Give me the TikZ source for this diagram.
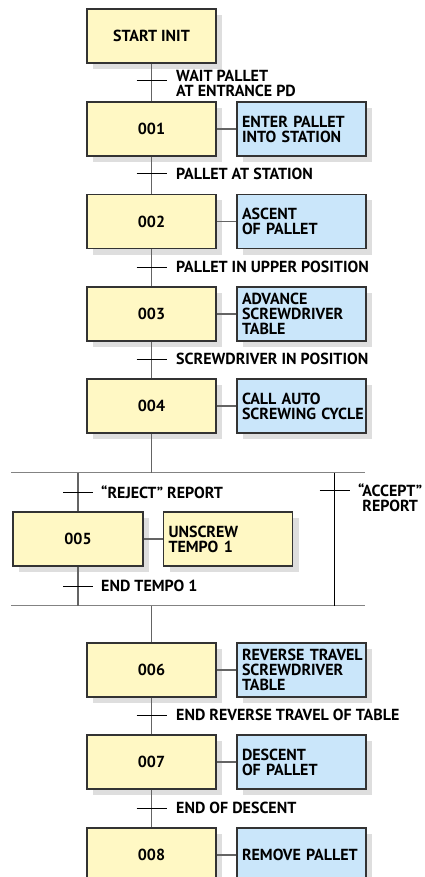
\documentclass[tikz,border=0pt]{standalone}
\usepackage{fontspec}
\setmainfont{PT Sans}
\usetikzlibrary{shadows}
\definecolor{stepfill}{RGB}{255,248,196}
\definecolor{actfill}{RGB}{202,230,250}
\definecolor{shadowgray}{RGB}{222,222,222}
\definecolor{linkgray}{RGB}{100,100,100}
% one unbreakable line of action text
\newcommand\actline[1]{\mbox{#1}}
\begin{document}
\begin{tikzpicture}[x=1pt,y=-1pt,
  every node/.style={font=\bfseries\fontsize{16}{15}\selectfont},
  boxbase/.style={draw=black!80, line width=1.1pt, minimum height=54pt,
    drop shadow={shadow xshift=6pt, shadow yshift=-6pt, fill=shadowgray, opacity=1}},
  stepbox/.style={boxbase, fill=stepfill, minimum width=129pt},
  actbox/.style={boxbase, fill=actfill, text width=119pt, inner xsep=5pt, align=left,
    execute at begin node={\hfuzz=30pt\hbadness=10000}},
  actyellow/.style={actbox, fill=stepfill},
  link/.style={draw=linkgray, line width=1.3pt},
  bar/.style={draw=linkgray!80, line width=1.6pt},
  tick/.style={draw=black, line width=1pt},
  cond/.style={anchor=west, inner sep=0pt, align=left}
]
\useasboundingbox (0,0) rectangle (425,877);

% steps of the main sequence
\node[stepbox] (s0) at (151.5,36) {START INIT};
\node[stepbox] (s1) at (151.5,129) {001};
\node[stepbox] (s2) at (151.5,221.5) {002};
\node[stepbox] (s3) at (151.5,314) {003};
\node[stepbox] (s4) at (151.5,406) {004};
\node[stepbox] (s6) at (151.5,670) {006};
\node[stepbox] (s7) at (151.5,762) {007};
\node[stepbox] (s8) at (151.5,855) {008};

% actions
\node[actbox] (a1) at (301.5,129) {\actline{ENTER PALLET}\\\actline{INTO STATION}};
\node[actbox] (a2) at (301.5,221.5) {\actline{ASCENT}\\\actline{OF PALLET}};
\node[actbox] (a3) at (301.5,314) {\actline{ADVANCE}\\\actline{SCREWDRIVER}\\\actline{TABLE}};
\node[actbox] (a4) at (301.5,406) {\actline{CALL AUTO}\\\actline{SCREWING CYCLE}};
\node[actbox] (a6) at (301.5,670) {\actline{REVERSE TRAVEL}\\\actline{SCREWDRIVER}\\\actline{TABLE}};
\node[actbox] (a7) at (301.5,762) {\actline{DESCENT}\\\actline{OF PALLET}};
\node[actbox] (a8) at (301.5,855) {\actline{REMOVE PALLET}};

% reject branch
\node[stepbox, minimum width=130pt] (s5) at (78,539) {005};
\node[actyellow] (a5) at (228,539) {\actline{UNSCREW}\\\actline{TEMPO 1}};

% selection bars
\coordinate (barTL) at (11,472.5);
\coordinate (barTR) at (365,472.5);
\coordinate (barBL) at (11,605.5);
\coordinate (barBR) at (365,605.5);
\coordinate (topM) at (151.5,472.5);
\coordinate (botM) at (151.5,605.5);
\coordinate (topL) at (78,472.5);
\coordinate (botL) at (78,605.5);
\coordinate (topR) at (334.5,472.5);
\coordinate (botR) at (334.5,605.5);
\path[bar] (barTL) -- (barTR);
\path[bar] (barBL) -- (barBR);

% links between steps
\path[link] (s0) -- (s1);
\path[link] (s1) -- (s2);
\path[link] (s2) -- (s3);
\path[link] (s3) -- (s4);
\path[link] (s4) -- (topM);
\path[link] (topL) -- (s5);
\path[link] (s5) -- (botL);
\draw[line width=1pt] (topR) -- (botR);
\path[link] (botM) -- (s6);
\path[link] (s6) -- (s7);
\path[link] (s7) -- (s8);

% links to actions
\foreach \i in {1,2,3,4,5,6,7,8}{\path[link] (s\i) -- (a\i);}

% transitions
\foreach \n/\y in {t0/80.5,t1/174,t2/267,t3/359,t6/715,t7/808}{
  \coordinate (\n) at (151.5,\y);
  \path[tick] ([xshift=-15pt]\n) -- ([xshift=15pt]\n);
}
\coordinate (t4) at (78,492);
\coordinate (t5) at (78,586);
\coordinate (tr) at (334.5,490);
\foreach \n in {t4,t5,tr}{\path[tick] ([xshift=-15pt]\n) -- ([xshift=15pt]\n);}

\node[cond] (c0) at (176,83) {WAIT PALLET\\AT ENTRANCE PD};
\node[cond] (c1) at (176,174) {PALLET AT STATION};
\node[cond] (c2) at (176,267) {PALLET IN UPPER POSITION};
\node[cond] (c3) at (176,359) {SCREWDRIVER IN POSITION};
\node[cond] (c6) at (176,715) {END REVERSE TRAVEL OF TABLE};
\node[cond] (c7) at (176,808) {END OF DESCENT};
\node[cond] (c4) at (101,492) {“REJECT” REPORT};
\node[cond] (c5) at (101,586) {END TEMPO 1};
\node[cond, align=center] (cr) at (358,498) {“ACCEPT”\\REPORT};
\end{tikzpicture}
\end{document}
